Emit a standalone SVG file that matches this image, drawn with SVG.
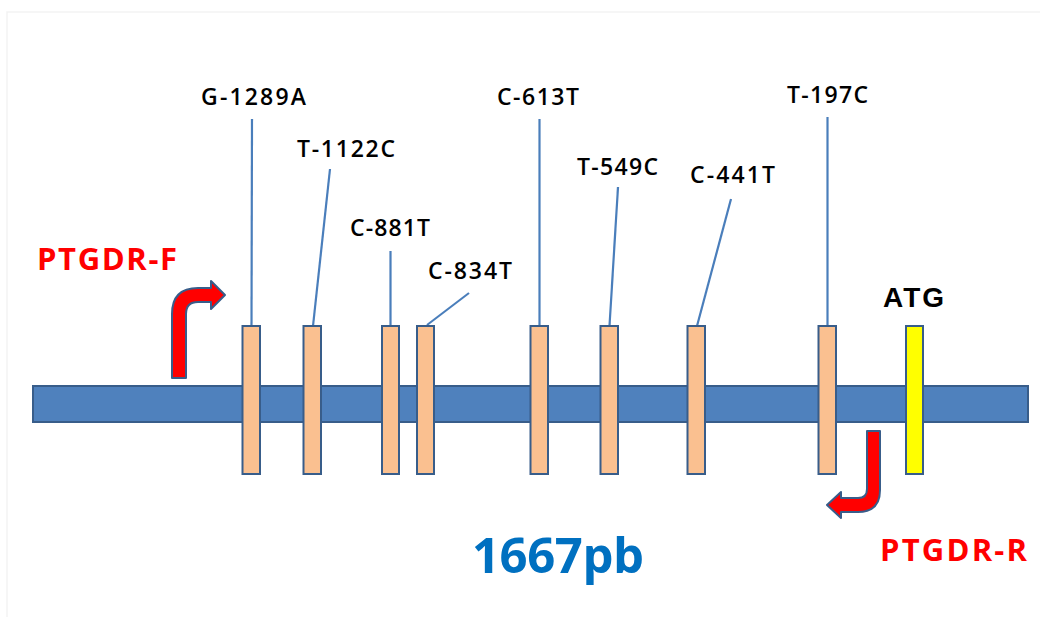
<svg xmlns="http://www.w3.org/2000/svg" width="1040" height="617" viewBox="0 0 1040 617">
<style>
.bg{fill:#ffffff}
.frame{fill:none;stroke:#f3f3f3;stroke-width:1.5}
.bar{fill:#4f81bd;stroke:#385d8a;stroke-width:2}
.snp{fill:#fac090;stroke:#385d8a;stroke-width:2}
.atg{fill:#ffff00;stroke:#385d8a;stroke-width:2}
.primer{fill:#ff0000;stroke:#385d8a;stroke-width:2;stroke-linejoin:round}
.lead{stroke:#4a7ebb;stroke-width:2.2;fill:none}
.lbl{font-family:"Open Sans","Liberation Sans",sans-serif;font-weight:600;font-size:23px;fill:#000}
.red{font-family:"Open Sans","Liberation Sans",sans-serif;font-weight:700;font-size:31px;fill:#ff0000}
.atgt{font-family:"Liberation Sans",Arial,sans-serif;font-weight:700;font-size:28px;fill:#000}
.len{font-family:"Open Sans","Liberation Sans",sans-serif;font-weight:700;font-size:49px;fill:#0070c0}
</style>
<rect class="bg" x="0" y="0" width="1040" height="617"/>
<rect class="frame" x="7" y="12" width="1060" height="640"/>
<g id="connectors">
<line class="lead" x1="252" y1="119" x2="251.5" y2="326"/>
<line class="lead" x1="330" y1="169" x2="313" y2="326"/>
<line class="lead" x1="390.5" y1="251" x2="390.5" y2="326"/>
<line class="lead" x1="469" y1="293" x2="427" y2="325"/>
<line class="lead" x1="539.5" y1="119" x2="539.5" y2="326"/>
<line class="lead" x1="618" y1="187" x2="609.5" y2="326"/>
<line class="lead" x1="731" y1="199" x2="697" y2="326"/>
<line class="lead" x1="827.5" y1="117" x2="827.5" y2="326"/>
</g>
<g id="gene">
<rect class="bar" x="33" y="386" width="995" height="36"/>
</g>
<g id="snp-G-1289A"><rect class="snp" x="242.5" y="326" width="17.5" height="148"/><text class="lbl" x="201" y="105" textLength="105" lengthAdjust="spacing">G-1289A</text></g>
<g id="snp-T-1122C"><rect class="snp" x="303.5" y="326" width="17.5" height="148"/><text class="lbl" x="297" y="157" textLength="98" lengthAdjust="spacing">T-1122C</text></g>
<g id="snp-C-881T"><rect class="snp" x="382" y="326" width="17" height="148"/><text class="lbl" x="350" y="236" textLength="80" lengthAdjust="spacing">C-881T</text></g>
<g id="snp-C-834T"><rect class="snp" x="417" y="326" width="17" height="148"/><text class="lbl" x="428" y="279" textLength="84" lengthAdjust="spacing">C-834T</text></g>
<g id="snp-C-613T"><rect class="snp" x="530.5" y="326" width="17.5" height="148"/><text class="lbl" x="497" y="105" textLength="82" lengthAdjust="spacing">C-613T</text></g>
<g id="snp-T-549C"><rect class="snp" x="600.5" y="326" width="17.5" height="148"/><text class="lbl" x="577" y="175" textLength="81" lengthAdjust="spacing">T-549C</text></g>
<g id="snp-C-441T"><rect class="snp" x="687.5" y="326" width="17.5" height="148"/><text class="lbl" x="690" y="183" textLength="85" lengthAdjust="spacing">C-441T</text></g>
<g id="snp-T-197C"><rect class="snp" x="818.5" y="326" width="17.5" height="148"/><text class="lbl" x="787" y="103" textLength="81" lengthAdjust="spacing">T-197C</text></g>
<g id="atg"><rect class="atg" x="906" y="326" width="17" height="148"/><text class="atgt" x="883" y="307" textLength="61" lengthAdjust="spacing">ATG</text></g>
<g id="primer-F">
<path class="primer" d="M172,378 L172,314 Q172,288 198,288 L211,288 L211,281 L225,295 L211,309 L211,302 L198,302 Q186,302 186,314 L186,378 Z"/>
<text class="red" x="37" y="270" textLength="140" lengthAdjust="spacing">PTGDR-F</text>
</g>
<g id="primer-R">
<path class="primer" d="M867,431 L880,431 L880,490 Q880,512 858,512 L841,512 L841,518 L827,505 L841,492 L841,498 L858,498 Q867,498 867,489 Z"/>
<text class="red" x="880" y="561" textLength="147" lengthAdjust="spacing">PTGDR-R</text>
</g>
<g id="length"><text class="len" x="472" y="573" textLength="172" lengthAdjust="spacing">1667pb</text></g>
</svg>
